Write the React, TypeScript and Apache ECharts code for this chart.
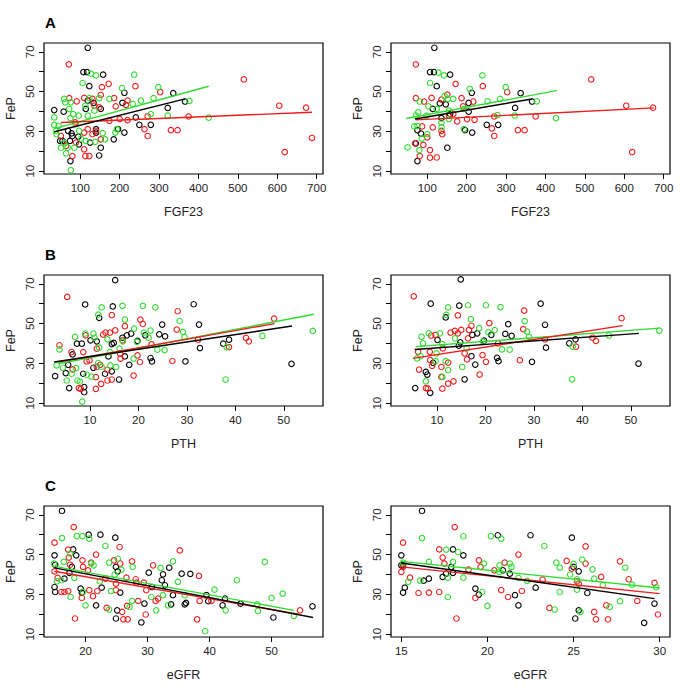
import React, { useEffect, useRef } from "react";
import * as echarts from "echarts";

// ---------- data ----------
const aLeftBlack = [[34,40.7],[49,25.2],[55,25.2],[58,39.9],[69,30.3],[74,25.2],[75,15.1],[78,29],[80,27.7],[95,27.4],[97,23.5],[108,59.8],[117,59.8],[119,72],[123,52.7],[114,41.3],[119,45.5],[125,24.4],[134,44.3],[140,29.4],[140,31.1],[148,17.9],[152,21.8],[152,41.3],[158,58.5],[185,26],[196,31.1],[207,44.3],[212,49.4],[212,29.4],[241,37],[250,33.3],[279,33.3],[322,41.8],[336,49.2],[366,45]];
const aLeftRed = [[51,27.7],[64,22.7],[71,63.7],[72,46.7],[80,17.6],[87,34.5],[89,24.4],[91,45.1],[110,46.8],[110,21],[110,29.4],[113,17.6],[119,31.1],[123,17.6],[131,46.3],[131,28.6],[136,42.9],[140,30.3],[148,42.1],[152,48.3],[152,26],[155,52.2],[172,53.9],[174,35.3],[186,46.7],[190,42.6],[200,36.2],[216,43.3],[220,45.5],[220,35.7],[240,52.7],[263,31.1],[271,27.7],[271,37.5],[303,49.7],[330,30.6],[347,30.6],[375,37.5],[515,56.1],[605,42.9],[619,19.6],[673,41.9],[688,26.7]];
const aLeftGreen = [[34,37],[34,33.3],[38,30.3],[40,28.6],[45,32.8],[51,21.8],[59,24.4],[59,46.3],[62,44.6],[64,19],[68,21.8],[72,41.3],[75,36.7],[76,10.5],[76,44.6],[82,38.7],[85,21.8],[89,33.6],[96,37.9],[97,30.3],[102,26.4],[106,54.3],[113,42.9],[114,25.2],[119,37.9],[123,46.7],[127,59],[136,40.4],[138,24.7],[140,58.1],[148,46.7],[157,29.1],[163,26],[174,46.3],[189,29.4],[193,31.1],[206,51.7],[233,43.8],[237,58.5],[254,45.5],[279,38.7],[286,46.7],[298,52.2],[322,37.9],[377,45.3],[426,36.9]];

const aRightBlack = [[75,15.1],[71,24],[75,30.6],[84,28.9],[107,59.8],[117,59.8],[118,72],[124,52.7],[114,41.3],[132,44.1],[136,36.7],[147,43.6],[151,21.8],[158,58.5],[158,38.7],[196,30.6],[205,44.3],[205,39.9],[213,49.4],[214,29.4],[251,33.3],[280,33.3],[323,41.8],[337,49.2],[366,45]];
const aRightRed = [[69,24],[71,63.7],[71,46.7],[81,17.6],[87,32.5],[90,23.2],[92,45],[100,27],[107,20.6],[107,16.8],[111,46.8],[114,32],[124,16.9],[136,46],[136,30.3],[138,28.6],[151,48.5],[155,37.9],[166,38.7],[172,53.9],[176,35],[187,46.7],[191,42.6],[201,36.2],[217,45],[220,35.8],[241,52.7],[264,31.5],[270,37.5],[270,27.7],[303,49.7],[330,30.6],[347,30.6],[375,37.5],[516,56.1],[605,42.9],[620,19.6],[673,41.9]];
const aRightGreen = [[50,22],[67,32.5],[71,37.9],[75,32.8],[77,39.6],[80,20.6],[81,45],[86,26.4],[98,37.9],[100,28.6],[103,42.6],[107,54.3],[124,41.3],[128,59.5],[136,34.5],[136,32],[142,58.1],[144,47.7],[152,46.3],[155,40.4],[155,36.2],[166,46.3],[193,31.1],[193,41.3],[208,51.4],[240,58.1],[253,45.1],[278,38.2],[285,46.3],[299,52.2],[322,37.9],[378,45.1],[427,36.7]];

const bLeftBlack = [[2.8,23.6],[5,25.1],[5.7,17.6],[5.5,29.3],[6.4,34.5],[7.3,39.9],[8.3,39.9],[8.6,24.8],[8.8,15.5],[8.8,18.1],[9,59.6],[10.1,41.6],[10.7,27.8],[11.4,41.1],[11.9,52.9],[13.1,24.8],[13.8,33.5],[14.5,39.7],[14.5,26],[14.7,58.6],[14.9,40.3],[15.2,71.8],[16,21.9],[16.7,42.9],[17.2,33.5],[17.6,44.1],[18.1,29.3],[18.5,45],[19.8,41.3],[21.4,44.1],[22.5,32.7],[22.8,31],[24.3,44.6],[24.9,49.5],[25.5,43.6],[29.7,31],[31.4,59.7],[32.5,49.5],[32.7,37.7],[37.5,39.9],[38.7,41.9],[51.6,29.8]];
const bLeftRed = [[3.7,39.1],[5.3,63.4],[6.2,35.7],[6.4,27],[7.7,17.6],[8.1,17.2],[8.6,35.7],[9.1,44.1],[9.3,31],[9.9,31.5],[11.2,23.1],[11.2,17.2],[11.4,28.2],[11.4,37.4],[12.1,29.3],[12.3,19.7],[12.7,44.5],[13.2,45.5],[13.6,21.4],[13.6,26.8],[14.1,45.5],[14.5,54.2],[14.5,21.9],[15.2,46.6],[16.2,34.9],[16.3,32.4],[16.7,41.6],[17.2,48.7],[19,23.9],[19.8,34],[20.3,30.7],[20.4,52],[20.9,49.8],[22.7,39.6],[27,31.2],[28.1,56.2],[27.9,47],[32.3,41.9],[38.7,38.2],[42.2,42.8],[42.8,41.1],[48,52.5]];
const bLeftGreen = [[3.1,29],[3.7,37],[4.4,27.8],[5.2,21.4],[6.2,24.8],[6.9,43.3],[7.1,27.6],[7.4,21.4],[7.9,20.9],[8.4,10.8],[9,45],[9.3,24.3],[10.3,23.4],[10.7,45],[10.9,42.9],[11.7,54.5],[11.9,37.9],[12.4,58.1],[11.7,30.2],[12.4,28.2],[13.6,42.1],[14.1,35.7],[14.2,29],[15.4,28.2],[16.1,37.4],[16.7,58.9],[17.2,52],[16.8,41.1],[19.1,47.5],[19,32.4],[19.7,40.8],[20.9,58.9],[21.1,45.5],[22.1,42.9],[22.5,46.5],[23.5,58.1],[23.9,36.9],[25.4,36.7],[28.5,51.3],[29.2,45.8],[29.5,43.3],[38,21.9],[38.2,38.2],[45.6,43.8],[56,46.3]];

const bRightBlack = [[5.5,17.6],[7.7,25.7],[8,24.4],[8.6,15.2],[8.7,60],[9.2,30.3],[10.1,41.8],[11.8,53.1],[14.5,38.9],[14.6,59],[14.8,40.6],[14.9,72.2],[15.7,22],[17.1,33.6],[17.3,44.3],[17.9,29.4],[18.3,45.1],[19.7,41.4],[21.2,44.3],[22.4,32.8],[22.7,31.1],[24.1,44.8],[24.7,49.7],[25.4,43.8],[29.6,30.8],[31.4,60],[32.3,49.4],[32.5,37.9],[37.3,40.1],[38.6,42.1],[51.6,29.9]];
const bRightRed = [[5.2,63.7],[6.1,35.8],[6.3,26.9],[7.7,17.6],[8.1,17.3],[8.5,35.8],[8.6,31.6],[8.8,44],[9,28.8],[9.7,44.3],[10.9,28.2],[10.9,23.2],[11.1,17.3],[11.2,37.5],[12.3,30.4],[12.3,19.8],[12.8,45.5],[13.4,21],[13.7,46.3],[14.3,45.1],[14.3,54.1],[15,46.8],[15.7,35],[16.2,32],[16.4,42.6],[16.6,46.8],[17.1,48.9],[18.8,24.4],[19.4,34.2],[20.1,30.8],[20.8,50.2],[22.6,40.1],[27.1,31.6],[28,56.5],[27.8,47.2],[32.3,42.1],[38.7,38.4],[42.1,42.9],[42.8,41.3],[48.1,52.7]];
const bRightGreen = [[5.9,32.5],[6.6,33.6],[6.8,43.4],[7.1,40.1],[7.7,21],[8.3,45.1],[9.7,31.1],[9.9,35],[10.6,45.1],[11.1,39.7],[11.1,23.2],[11.8,31.1],[11.9,54.4],[12.3,58.1],[12.3,26.6],[13.7,42.6],[15.2,28.2],[16.1,37.5],[16.4,59.2],[17,52.2],[18.7,47.7],[19.5,40.9],[20.1,59.2],[20.6,45.6],[21.9,46.7],[23.1,58.3],[23.4,37],[25,36.9],[28.1,51.2],[28.6,46],[29,43.4],[37.9,22],[38,38.4],[45.5,44],[55.9,46.5]];

const cLeftBlack = [[15,49.6],[15.1,44.9],[15,33.7],[15.1,31.2],[16.2,71.9],[16.6,37.9],[17.4,40.8],[17.8,43.8],[18,52.6],[18.5,49.6],[19.2,32.9],[19.4,30.9],[20.5,60],[21.7,24.5],[22.4,60],[22.6,33.4],[24.8,58.5],[24.9,43.8],[24.9,17.9],[25.1,22],[25.2,41.6],[25.6,30.9],[29,15.9],[29.5,25.4],[30.2,40.9],[30.7,33.7],[32.3,37.1],[32.5,40.1],[32.8,34.6],[33.5,43.4],[33.8,25],[34.1,29.6],[35.5,40.4],[36,25],[36.2,25.7],[36.9,40.3],[39.5,29.6],[39.8,26.6],[42.1,24.5],[42.5,27.9],[45,25.4],[50.3,18.4],[56.6,24]];
const cLeftRed = [[15,56],[15,41.6],[15.5,38.3],[16.1,31.2],[16.6,31.2],[17.2,31.6],[17.2,52.5],[17.3,48.5],[17.5,44.9],[18.1,63.8],[18.3,17.9],[19.4,28.2],[19.5,47.1],[19.6,43.8],[20.4,42.1],[20.6,32.1],[20.9,46],[21.2,29.1],[21.7,50],[21.9,31.7],[23.2,37.9],[23.4,23.2],[24.6,47.1],[24.9,32.1],[24.9,35.4],[25.5,53.8],[25.6,45.5],[25.9,21.2],[26.1,17.5],[26.8,17.5],[26.6,38.4],[26.7,24.2],[27.5,46.6],[28.1,37.6],[28.2,35.9],[28.5,26.7],[29.4,35.9],[29.8,32.1],[29.7,19.9],[30.9,44.6],[31.3,26.7],[31.7,27.9],[35.2,52.1],[38,17.5],[38.3,39.3],[38.4,26.7],[40.3,26.7],[54.6,22]];
const cLeftGreen = [[14.9,45.5],[15.4,36.6],[16.1,37.1],[16.2,58.3],[16.5,46.3],[17.5,50.5],[17.6,28.7],[18.2,38.3],[18.6,59.3],[19.5,59.3],[19.6,31.2],[20,24.5],[20.6,58],[20.9,45.5],[21.3,44.6],[22.3,36.6],[23.2,54.3],[23.8,46],[23.8,22.4],[24.1,31.6],[24.7,39.9],[25.2,47.9],[25.8,42.4],[27.1,23.7],[27.5,26.7],[27.6,43.8],[30.6,28.7],[31.4,22],[32.1,43.3],[32.5,29.6],[33.3,24.5],[34.1,46.6],[34.9,36.3],[36,29.6],[39.3,11.5],[40.8,32.4],[42.6,22],[44.4,37.1],[47.7,25],[47.8,21.7],[48.9,46.3],[50,28.2],[51.8,30.4],[53.6,19.2]];

const cRightBlack = [[15,49.6],[15,44.6],[15.1,44.6],[15.2,33.4],[15.1,30.9],[16.2,71.9],[16.3,36.9],[16.6,37.9],[17.4,38.8],[17.6,40.4],[18,40.8],[18,52.6],[17.9,43.8],[18.6,49.6],[19.3,32.9],[19.5,29.9],[20.6,59.7],[20.9,42.1],[21.3,40.4],[21.6,29.6],[21.8,24.5],[22.8,33.4],[22.5,59.7],[24.9,58.5],[25,43.8],[25.1,17.9],[25.3,41.6],[25.3,22],[25.8,30.7],[29.1,15.7],[29.7,25.4]];
const cRightRed = [[15,41.3],[15.1,56],[15.1,43.8],[15.5,38.4],[16,30.7],[16.6,30.9],[17.2,52.6],[17.2,31.2],[17.4,48.5],[17.5,45.5],[18.1,63.8],[18.2,17.9],[18.9,42.4],[19.3,28.2],[19.5,47.1],[19.6,43.8],[20.4,42.1],[20.8,32.1],[21,46],[21.2,28.7],[21.8,50],[22,31.7],[23.2,37.4],[23.6,23.2],[24.6,46.8],[24.9,42.9],[25.3,35.4],[25.2,36.6],[25.7,54.1],[25.7,45.5],[26.2,21.2],[26.3,17.5],[26.6,38.8],[26.9,24.5],[27,17.4],[27.7,46.6],[28.2,37.6],[28.7,26.7],[29.7,35.8],[29.9,19.9]];
const cRightGreen = [[15.1,46],[15.4,36.3],[16.1,36.9],[16.2,58.3],[16.6,46.3],[17.6,52.5],[17.7,28.7],[17.7,38.3],[18,46.3],[18.3,51.3],[18.6,38.4],[18.6,59.2],[19.7,31.2],[19.8,45.5],[20,24.2],[20.2,59.3],[20.7,44.6],[20.8,58],[20.7,41.3],[21.3,45.5],[21.4,43.8],[21.8,38.3],[22.3,36.8],[23.3,54.3],[23.9,22.4],[24,46],[24.2,43.4],[24.2,31.2],[24.8,40],[25,45.3],[25.2,37.6],[25.2,32.4],[25.4,21.2],[25.5,47.5],[26.1,42.6],[26.2,37.9],[26.7,34.6],[27.1,23.7],[27.7,26.6],[28,43.4],[28.4,34.9],[29.8,33.6]];

// regression lines (end points)
const fitALeft = { black: [[34,29.8],[366,46.3]], red: [[51,34.5],[688,39.6]], green: [[36,31.5],[426,52.7]] };
const fitARight = { black: [[69,36.2],[366,46.3]], red: [[71,35.8],[675,41.8]], green: [[47,36.5],[429,50.5]] };
const fitBLeft = { black: [[2.6,30.7],[51.7,48.8]], red: [[3.5,30.7],[48.1,50]], green: [[3.5,29.8],[56.2,54.7]] };
const fitBRight = { black: [[5.4,37],[51.7,45.1]], red: [[5,32.5],[48.3,49]], green: [[5.7,38.4],[55.9,47.7]] };
const fitCLeft = { black: [[15,43.3],[56.7,18.4]], red: [[15,41.6],[54.5,19.9]], green: [[15,44.1],[53.6,22]] };
const fitCRight = { black: [[15,45.8],[29.7,27.9]], red: [[15,43.8],[30,30.4]], green: [[15,46.6],[30,33.2]] };

// tick values
const yTicks = [10, 20, 30, 40, 50, 60, 70];
const yLabels = [10, 30, 50, 70];
const fgfTicks = [100, 200, 300, 400, 500, 600, 700];
const pthTicks = [10, 20, 30, 40, 50];
const egfrTicksLeft = [20, 30, 40, 50];
const egfrTicksRight = [15, 20, 25, 30];
const panelLetters = ["A", "B", "C"];

// ---------- layout ----------
const FONT = "'Liberation Sans', Arial, Helvetica, sans-serif";
const COLORS = { black: "#000000", red: "#ee1c1c", green: "#2fdc2f" };
const GRID_W = 279;
const GRID_H = 131;
const LEFT_X = 44;
const RIGHT_X = 391;
const ROW_TOP = [43, 275, 506];
const Y_RANGE = [8.6, 74.4];

const panels = [
  { row: 0, left: LEFT_X, xName: "FGF23", xMin: 8, xMax: 716, ticks: fgfTicks, pts: { black: aLeftBlack, red: aLeftRed, green: aLeftGreen }, fit: fitALeft },
  { row: 0, left: RIGHT_X, xName: "FGF23", xMin: 8, xMax: 716, ticks: fgfTicks, pts: { black: aRightBlack, red: aRightRed, green: aRightGreen }, fit: fitARight },
  { row: 1, left: LEFT_X, xName: "PTH", xMin: 0.5, xMax: 58.1, ticks: pthTicks, pts: { black: bLeftBlack, red: bLeftRed, green: bLeftGreen }, fit: fitBLeft },
  { row: 1, left: RIGHT_X, xName: "PTH", xMin: 0.5, xMax: 58.1, ticks: pthTicks, pts: { black: bRightBlack, red: bRightRed, green: bRightGreen }, fit: fitBRight },
  { row: 2, left: LEFT_X, xName: "eGFR", xMin: 13.3, xMax: 58.3, ticks: egfrTicksLeft, pts: { black: cLeftBlack, red: cLeftRed, green: cLeftGreen }, fit: fitCLeft },
  { row: 2, left: RIGHT_X, xName: "eGFR", xMin: 14.4, xMax: 30.6, ticks: egfrTicksRight, pts: { black: cRightBlack, red: cRightRed, green: cRightGreen }, fit: fitCRight },
];

function buildOption() {
  const grid: any[] = [];
  const xAxis: any[] = [];
  const yAxis: any[] = [];
  const series: any[] = [];
  panels.forEach((p, i) => {
    grid.push({
      left: p.left, top: ROW_TOP[p.row], width: GRID_W, height: GRID_H,
      show: true, borderColor: "#000", borderWidth: 1.2, backgroundColor: "#fff",
    });
    xAxis.push({
      type: "value", gridIndex: i, min: p.xMin, max: p.xMax,
      name: p.xName, nameLocation: "middle", nameGap: 31,
      nameTextStyle: { fontSize: 12.5, color: "#222", fontFamily: FONT },
      axisLine: { show: false }, splitLine: { show: false },
      axisTick: { show: true, inside: false, length: 5, customValues: p.ticks, lineStyle: { color: "#000", width: 1 } },
      axisLabel: { customValues: p.ticks, margin: 8, fontSize: 11.5, color: "#222", fontFamily: FONT },
    });
    yAxis.push({
      type: "value", gridIndex: i, min: Y_RANGE[0], max: Y_RANGE[1],
      name: "FeP", nameLocation: "middle", nameGap: 27,
      nameTextStyle: { fontSize: 12.5, color: "#222", fontFamily: FONT },
      axisLine: { show: false }, splitLine: { show: false },
      axisTick: { show: true, inside: false, length: 5, customValues: yTicks, lineStyle: { color: "#000", width: 1 } },
      axisLabel: { customValues: yLabels, rotate: 90, margin: 8, fontSize: 11.5, color: "#222", fontFamily: FONT },
    });
    (["black", "red", "green"] as const).forEach((g) => {
      series.push({
        type: "scatter", xAxisIndex: i, yAxisIndex: i, data: p.pts[g],
        symbol: "circle", symbolSize: 5.5,
        itemStyle: { color: "rgba(0,0,0,0)", borderColor: COLORS[g], borderWidth: 1.1, opacity: 1 },
        z: 2,
      });
    });
    (["green", "red", "black"] as const).forEach((g) => {
      series.push({
        type: "line", xAxisIndex: i, yAxisIndex: i, data: p.fit[g],
        symbol: "none", lineStyle: { color: COLORS[g], width: 1.4 }, z: 3,
      });
    });
  });
  const graphic = panelLetters.map((t, r) => ({
    type: "text", left: 45, top: ROW_TOP[r] - 28,
    style: { text: t, fontSize: 15, fontWeight: "bold", fill: "#000", fontFamily: FONT },
  }));
  return { animation: false, backgroundColor: "#fff", grid, xAxis, yAxis, series, graphic };
}

export default function App() {
  const ref = useRef<HTMLDivElement>(null);
  useEffect(() => {
    document.body.style.margin = "0";
    const chart = echarts.init(ref.current!, null, { renderer: "svg" });
    chart.setOption(buildOption() as any);
    return () => chart.dispose();
  }, []);
  return <div ref={ref} style={{ width: 685, height: 692, background: "#fff" }} />;
}
